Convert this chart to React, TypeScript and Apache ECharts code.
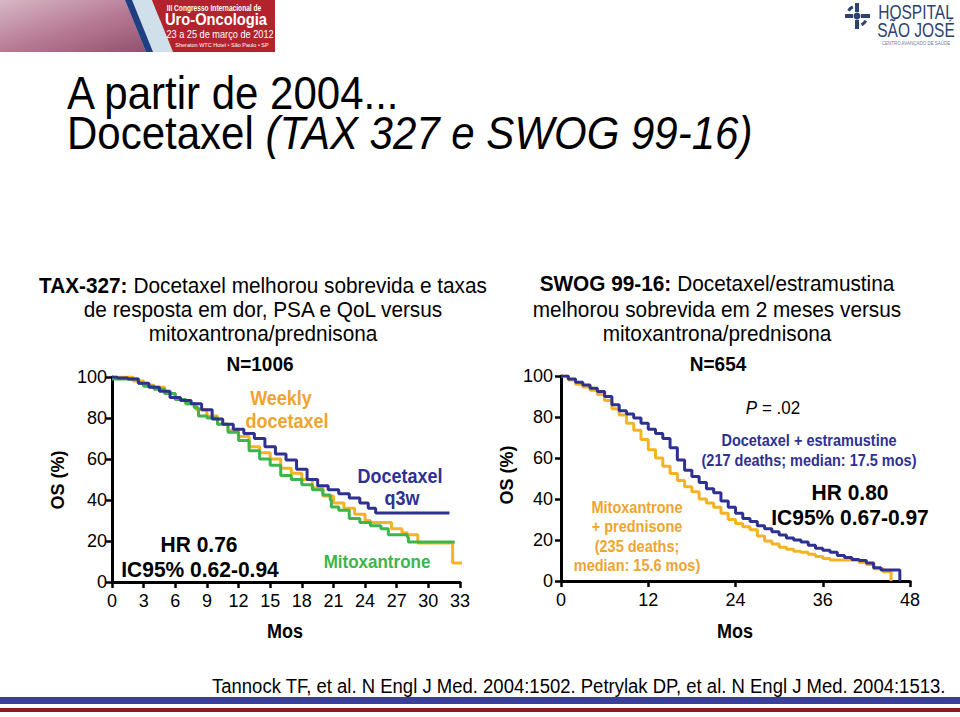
import React, { useEffect, useRef } from "react";
import * as echarts from "echarts";

// ---- Data ----
const leftYTicks = [0, 20, 40, 60, 80, 100];
const leftXTicks = [0, 3, 6, 9, 12, 15, 18, 21, 24, 27, 30, 33];
const rightXTicks = [0, 12, 24, 36, 48];

// TAX-327 (months, OS %)
const taxQ3w: [number, number][] = [
  [0, 100], [0.5, 99.5], [1.5, 99], [2.5, 97], [3.5, 95], [4.5, 93], [5.5, 90], [6.5, 88.5],
  [7.5, 87], [8.5, 84], [9.5, 79.5], [10.5, 77], [11.5, 74.5], [12.5, 72.5], [13.5, 70],
  [14.5, 66], [15.5, 62.5], [16.5, 59.5], [17.5, 55], [18.5, 50], [19.5, 47], [20.5, 45],
  [21.5, 43], [22.5, 41], [23.5, 38.5], [24.3, 36], [25, 33.7], [32, 33.7],
];
const taxWeekly: [number, number][] = [
  [0, 100], [1, 100], [2, 98], [3, 96], [4, 95], [5, 92], [6, 89], [7, 87], [8, 84], [9, 81],
  [10, 77], [11, 74], [12, 71], [13, 66], [14, 63], [15, 60], [16, 55.5], [17, 53], [18, 50],
  [19, 46], [20, 42], [21, 38.5], [22, 36], [23, 33], [24, 30], [24.5, 29], [26, 29],
  [26.5, 26], [27.5, 24], [28, 23], [29, 19], [32.2, 19], [32.3, 9.3], [33.2, 9.3],
];
const taxMitox: [number, number][] = [
  [0, 99], [1.5, 99], [2.5, 97], [3, 95.5], [4, 94], [5, 92], [6, 89], [7, 87], [7.8, 85],
  [8.2, 81], [9, 80], [10, 77], [11, 73], [12, 69], [13, 64], [14, 60], [15, 57], [16, 52],
  [17, 50], [18, 47.5], [19, 45], [20, 42.5], [20.7, 40], [20.8, 36.6], [21.5, 35],
  [22.5, 31], [23.5, 29], [24.5, 27.5], [25.5, 26], [26.2, 23], [28, 22], [28.1, 19.5],
  [32.5, 19.5],
];

// SWOG 99-16 (months, OS %)
const swogDocEstra: [number, number][] = [
  [0, 100], [1, 98.5], [2, 97], [3, 95.6], [4, 94], [5, 92.5], [6, 90], [7, 86], [8, 83],
  [9, 81.5], [10, 79.5], [11, 77], [12, 74], [13, 72], [14, 69.5], [15, 65], [16, 59],
  [17, 54], [18, 51], [19, 48], [20, 45], [21, 43], [22, 39], [23, 36], [24, 33], [25, 30.5],
  [26, 29], [27, 27], [28, 25.5], [29, 24], [30, 22.5], [31, 21], [32, 20], [33, 19],
  [34, 17.5], [35, 16], [36, 15], [37, 14], [38, 12.5], [39, 11.5], [40, 10.5], [41, 10],
  [42, 8.8], [43, 6.5], [44, 5.4], [46.6, 0],
];
const swogMitoxPred: [number, number][] = [
  [0, 100], [1, 98], [2, 96], [3, 94.6], [4, 93], [5, 91], [6, 88], [7, 84], [8, 81], [9, 77],
  [10, 73.5], [11, 69], [12, 64], [13, 60], [14, 56], [15, 52.5], [16, 49], [17, 46],
  [18, 43.5], [19, 40], [20, 38], [21, 36], [22, 33], [23, 30], [24, 28], [25, 26.5],
  [26, 25], [27, 22], [28, 19.5], [29, 18], [30, 16.5], [31, 15.5], [32, 14.5], [33, 14],
  [34, 13], [35, 12], [36, 11], [37, 10.2], [39.7, 10], [41, 9], [42, 8], [43, 6],
  [44.3, 4.5], [45.4, 0],
];

const NAVY = "#2e3190";
const ORANGE = "#f5b223";
const ORANGE_TXT = "#eea431";
const GREEN = "#3cb54a";
const LOGO = "#2d4270";
const FONT = "'Liberation Sans', Arial, Helvetica, sans-serif";

export default function App() {
  const ref = useRef<HTMLDivElement>(null);

  useEffect(() => {
    if (!ref.current) return;
    const chart = echarts.init(ref.current, null, { renderer: "svg" });

    const axisLine = { show: true, lineStyle: { color: "#000", width: 3 } };
    const axisTick = { show: true, length: 6, lineStyle: { color: "#000", width: 2.5 } };
    const axisLabel = { color: "#000", fontSize: 18, fontFamily: FONT };

    const xAxis = (gi: number, max: number, interval: number) => ({
      type: "value",
      gridIndex: gi,
      min: 0,
      max,
      interval,
      axisLine,
      axisTick,
      axisLabel: { ...axisLabel, margin: 10 },
      splitLine: { show: false },
    });
    const yAxis = (gi: number, margin: number) => ({
      type: "value",
      gridIndex: gi,
      min: leftYTicks[0],
      max: leftYTicks[leftYTicks.length - 1],
      interval: 20,
      axisLine,
      axisTick,
      axisLabel: { ...axisLabel, margin },
      splitLine: { show: false },
    });

    const line = (xi: number, data: [number, number][], color: string) => ({
      type: "line",
      xAxisIndex: xi,
      yAxisIndex: xi,
      data,
      step: "end",
      showSymbol: false,
      symbol: "none",
      lineStyle: { color, width: 3 },
      z: 3,
    });

    // y is the text baseline
    const txt = (
      x: number,
      y: number,
      text: string,
      size: number,
      color = "#000",
      weight: any = "normal",
      align: any = "center",
      rich?: any,
      extra?: any,
      lineHeight?: number
    ) => ({
      type: "text",
      x,
      y: y - 0.35 * size,
      scaleY: 1.08,
      z: 10,
      ...(extra || {}),
      style: {
        text,
        fill: color,
        fontSize: size,
        fontWeight: weight,
        fontFamily: FONT,
        align,
        verticalAlign: "middle",
        lineHeight: lineHeight || size,
        rich,
      },
    });

    const vtxt = (x: number, y: number, text: string) => ({
      type: "text",
      x,
      y,
      rotation: Math.PI / 2,
      z: 10,
      style: {
        text,
        fontSize: 18,
        fontWeight: "bold",
        fontFamily: FONT,
        fill: "#000",
        align: "center",
        verticalAlign: "middle",
      },
    });

    const graphic: any[] = [
      // top-left banner
      {
        type: "rect",
        shape: { x: 0, y: 0, width: 160, height: 52 },
        style: {
          fill: new echarts.graphic.LinearGradient(0, 0, 1, 1, [
            { offset: 0, color: "#d7b7c6" },
            { offset: 0.5, color: "#b77a95" },
            { offset: 1, color: "#8e4d6a" },
          ]),
        },
      },
      {
        type: "polygon",
        shape: { points: [[125, 0], [152, 0], [173, 52], [146, 52]] },
        style: { fill: "#cfe0ea" },
      },
      {
        type: "polygon",
        shape: { points: [[125, 0], [132, 0], [153, 52], [146, 52]] },
        style: { fill: "#1f3f80" },
      },
      {
        type: "polygon",
        shape: { points: [[152, 0], [275, 0], [275, 52], [173, 52]] },
        style: { fill: "#b3232d" },
      },
      txt(214, 11, "III Congresso Internacional de", 8.5, "#fff", "bold", "center", undefined, { scaleX: 0.78, scaleY: 1.1 }),
      txt(216, 25, "Uro-Oncologia", 15.5, "#fff", "bold", "center", undefined, { scaleX: 0.95, scaleY: 1.1 }),
      txt(220, 38, "23 a 25 de março de 2012", 10, "#fff", "normal", "center", undefined, { scaleX: 0.92 }),
      txt(222, 47, "Sheraton WTC Hotel • São Paulo • SP", 5.5, "#fff"),
      // hospital logo
      { type: "circle", shape: { cx: 857, cy: 16, r: 3.5 }, style: { fill: LOGO } },
      { type: "rect", shape: { x: 845, y: 14, width: 8, height: 4 }, style: { fill: LOGO } },
      { type: "rect", shape: { x: 861, y: 14, width: 9, height: 4 }, style: { fill: LOGO } },
      { type: "rect", shape: { x: 855, y: 3, width: 4, height: 9 }, style: { fill: LOGO } },
      { type: "rect", shape: { x: 855, y: 20, width: 4, height: 9 }, style: { fill: LOGO } },
      { type: "arc", shape: { cx: 857, cy: 16, r: 10, startAngle: -2.6, endAngle: -2.0 }, style: { stroke: LOGO, lineWidth: 3, fill: "none" } },
      { type: "arc", shape: { cx: 857, cy: 16, r: 10, startAngle: 0.5, endAngle: 1.1 }, style: { stroke: LOGO, lineWidth: 3, fill: "none" } },
      {
        type: "text",
        x: 916,
        y: 12,
        scaleY: 1.35,
        z: 10,
        style: { text: "HOSPITAL", fill: LOGO, fontSize: 15.5, fontFamily: FONT, align: "center", verticalAlign: "middle", lineHeight: 12 },
      },
      {
        type: "text",
        x: 916,
        y: 30,
        scaleY: 1.35,
        z: 10,
        style: { text: "SÃO JOSÉ", fill: LOGO, fontSize: 15.5, fontFamily: FONT, align: "center", verticalAlign: "middle", lineHeight: 12 },
      },
      txt(916, 45, "CENTRO AVANÇADO DE SAÚDE", 4.5, "#6d7d99"),
      // titles
      txt(67, 108, "A partir de 2004...", 42, "#000", "normal", "left", undefined, undefined, 35),
      txt(67, 148, "Docetaxel {i|(TAX 327 e SWOG 99-16)}", 42, "#000", "normal", "left", {
        i: { fontStyle: "italic", fontSize: 42, fontFamily: FONT, fill: "#000", lineHeight: 35 },
      }, undefined, 35),
      // left subtitle
      txt(263, 292, "{b|TAX-327:} Docetaxel melhorou sobrevida e taxas", 20.8, "#000", "normal", "center", {
        b: { fontWeight: "bold", fontSize: 20.8, fontFamily: FONT, fill: "#000", lineHeight: 20.8 },
      }),
      txt(263, 316, "de resposta em dor, PSA e QoL versus", 20.8),
      txt(263, 340, "mitoxantrona/prednisona", 20.8),
      txt(260, 370, "N=1006", 19, "#000", "bold"),
      // right subtitle
      txt(717, 290, "{b|SWOG 99-16:} Docetaxel/estramustina", 20.8, "#000", "normal", "center", {
        b: { fontWeight: "bold", fontSize: 20.8, fontFamily: FONT, fill: "#000", lineHeight: 20.8 },
      }),
      txt(717, 316, "melhorou sobrevida em 2 meses versus", 20.8),
      txt(717, 340, "mitoxantrona/prednisona", 20.8),
      txt(718, 370, "N=654", 19, "#000", "bold"),
      // left chart annotations
      txt(281, 405, "Weekly", 18, ORANGE_TXT, "bold"),
      txt(287, 428, "docetaxel", 18, ORANGE_TXT, "bold"),
      txt(400, 483, "Docetaxel", 18, NAVY, "bold"),
      txt(402, 505, "q3w", 18, NAVY, "bold"),
      txt(377, 568, "Mitoxantrone", 17, GREEN, "bold"),
      txt(199, 552, "HR 0.76", 21, "#000", "bold"),
      txt(200, 577, "IC95% 0.62-0.94", 21, "#000", "bold"),
      txt(285, 638, "Mos", 18, "#000", "bold"),
      vtxt(58, 480, "OS (%)"),
      // right chart annotations
      txt(773, 414, "{i|P} = .02", 17, "#000", "normal", "center", {
        i: { fontStyle: "italic", fontSize: 17, fontFamily: FONT, fill: "#000", lineHeight: 17 },
      }),
      txt(809, 445, "Docetaxel + estramustine", 14.5, NAVY, "bold"),
      txt(809, 465, "(217 deaths; median: 17.5 mos)", 14.5, NAVY, "bold"),
      txt(850, 500, "HR 0.80", 21, "#000", "bold"),
      txt(850, 525, "IC95% 0.67-0.97", 21, "#000", "bold"),
      txt(637, 512, "Mitoxantrone", 14.5, ORANGE_TXT, "bold"),
      txt(637, 531, "+ prednisone", 14.5, ORANGE_TXT, "bold"),
      txt(637, 551, "(235 deaths;", 14.5, ORANGE_TXT, "bold"),
      txt(637, 570, "median: 15.6 mos)", 14.5, ORANGE_TXT, "bold"),
      txt(735, 638, "Mos", 18, "#000", "bold"),
      vtxt(507, 475, "OS (%)"),
      // footer
      txt(212, 693, "Tannock TF, et al. N Engl J Med. 2004:1502. Petrylak DP, et al. N Engl J Med. 2004:1513.", 18.5, "#000", "normal", "left"),
      { type: "rect", shape: { x: 0, y: 697, width: 960, height: 7 }, style: { fill: "#3a3f97" } },
      { type: "rect", shape: { x: 0, y: 708, width: 960, height: 4 }, style: { fill: "#8d1b1f" } },
    ];

    chart.setOption({
      animation: false,
      backgroundColor: "#fff",
      grid: [
        { left: 112, top: 377, width: 348, height: 205 },
        { left: 561, top: 376, width: 349, height: 205 },
      ],
      xAxis: [xAxis(0, leftXTicks[leftXTicks.length - 1], 3), xAxis(1, rightXTicks[rightXTicks.length - 1], 12)],
      yAxis: [yAxis(0, 5), yAxis(1, 8)],
      series: [
        line(0, taxWeekly, ORANGE),
        line(0, taxMitox, GREEN),
        line(0, taxQ3w, NAVY),
        line(1, swogMitoxPred, ORANGE),
        line(1, swogDocEstra, NAVY),
      ],
      graphic,
    });

    return () => chart.dispose();
  }, []);

  return (
    <div
      ref={ref}
      style={{ position: "absolute", left: 0, top: 0, width: 960, height: 717, background: "#fff" }}
    />
  );
}
